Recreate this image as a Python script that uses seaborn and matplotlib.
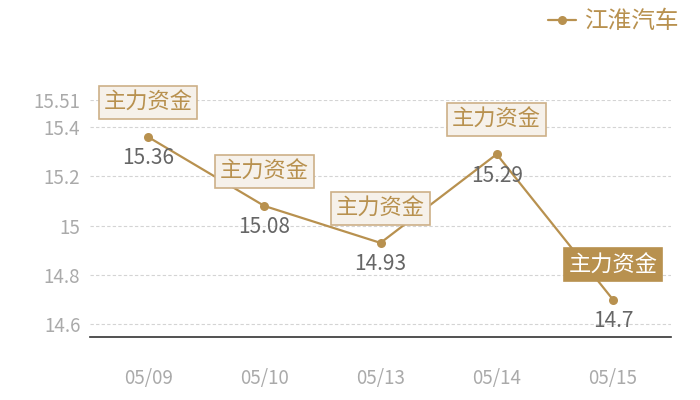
import numpy as np
import pandas as pd
import seaborn as sns
import matplotlib
matplotlib.use('Agg')
import matplotlib.pyplot as plt

# data
dates = ['05/09', '05/10', '05/13', '05/14', '05/15']
prices = [15.36, 15.08, 14.93, 15.29, 14.7]
y_ticks = [14.6, 14.8, 15.0, 15.2, 15.4, 15.51]
y_tick_labels = ['14.6', '14.8', '15', '15.2', '15.4', '15.51']
series_name = '江淮汽车'
mark_text = '主力资金'

sns.set_theme(style='white')
plt.rcParams['font.family'] = ['Noto Sans CJK SC', 'DejaVu Sans']

gold = '#b8914f'
df = pd.DataFrame({'date': dates, 'price': prices})
df['pos'] = np.arange(len(dates))

fig = plt.figure(figsize=(7, 4), dpi=100)
ax = fig.add_axes([90 / 700, 1 - 337 / 400, 581 / 700, 237 / 400])

sns.lineplot(data=df, x='pos', y='price', ax=ax, color=gold, linewidth=1.6,
             marker='o', markersize=6.5, markeredgewidth=0, label=series_name,
             legend=False)

ax.set_xlim(-0.5, len(dates) - 0.5)
ax.set_ylim(14.548, 15.51)
ax.set_xticks(df['pos'])
ax.set_xticklabels(dates)
ax.set_yticks(y_ticks)
ax.set_yticklabels(y_tick_labels)
ax.set_xlabel('')
ax.set_ylabel('')
ax.tick_params(axis='both', length=0, colors='#aaaaaa', labelsize=13.5)
ax.tick_params(axis='x', pad=22)
ax.tick_params(axis='y', pad=7)
ax.yaxis.grid(True, linestyle=(0, (3, 2)), color='#d4d4d4', linewidth=0.8)
ax.xaxis.grid(False)
for side in ['left', 'right', 'top']:
    ax.spines[side].set_visible(False)
ax.spines['bottom'].set_color('#333333')
ax.spines['bottom'].set_linewidth(1.2)

# value labels below points, mark boxes above
for i, (p, v) in enumerate(zip(df['pos'], df['price'])):
    ax.annotate(f'{v:g}', (p, v), xytext=(0, -15.5), textcoords='offset points',
                ha='center', va='center', fontsize=15, color='#666666')
    last = i == len(prices) - 1
    ax.annotate(mark_text, (p, v), xytext=(0, 25), textcoords='offset points',
                ha='center', va='center', fontsize=16,
                color='white' if last else gold,
                bbox=dict(boxstyle='square,pad=0.22',
                          fc=gold if last else '#f6f1ea',
                          ec=gold if last else '#cdb088', lw=1.2),
                annotation_clip=False, zorder=5)

handles, labels = ax.get_legend_handles_labels()
fig.legend(handles, labels, loc='upper right', bbox_to_anchor=(0.99, 1.01),
           frameon=False, fontsize=17, labelcolor=gold, handlelength=1.2,
           handletextpad=0.35, borderaxespad=0.2)

fig.savefig('out.png', dpi=100)
